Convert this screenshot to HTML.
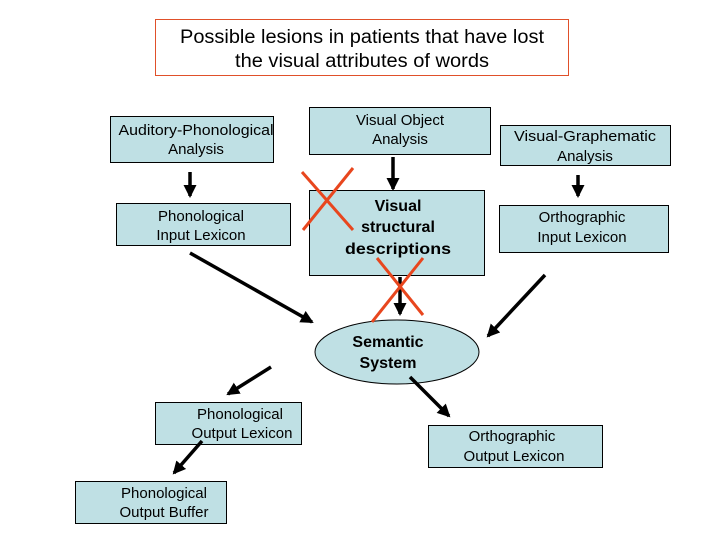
<!DOCTYPE html>
<html><head><meta charset="utf-8"><style>
html,body{margin:0;padding:0;background:#fff;}
svg{display:block;}
text{font-family:"Liberation Sans",sans-serif;fill:#000;}
</style></head><body>
<svg width="720" height="540" viewBox="0 0 720 540" xmlns="http://www.w3.org/2000/svg">
<defs>
<marker id="ah" markerWidth="14" markerHeight="14" refX="11" refY="6.5" orient="auto" markerUnits="userSpaceOnUse">
<path d="M0,0 L13,6.5 L0,13 z" fill="#000"/>
</marker>
</defs>
<rect x="155.5" y="19.5" width="413" height="56" fill="#fff" stroke="#e0502a" stroke-width="1"/>
<text x="362" y="43" font-size="19" text-anchor="middle" textLength="364" lengthAdjust="spacingAndGlyphs">Possible lesions in patients that have lost</text>
<text x="362" y="67" font-size="19" text-anchor="middle" textLength="254" lengthAdjust="spacingAndGlyphs">the visual attributes of words</text>
<g fill="#bfe0e4" stroke="#000" stroke-width="1">
<rect x="110.5" y="116.5" width="163" height="46"/>
<rect x="309.5" y="107.5" width="181" height="47"/>
<rect x="500.5" y="125.5" width="170" height="40"/>
<rect x="116.5" y="203.5" width="174" height="42"/>
<rect x="309.5" y="190.5" width="175" height="85"/>
<rect x="499.5" y="205.5" width="169" height="47"/>
<ellipse cx="397" cy="352" rx="82" ry="32"/>
<rect x="155.5" y="402.5" width="146" height="42"/>
<rect x="428.5" y="425.5" width="174" height="42"/>
<rect x="75.5" y="481.5" width="151" height="42"/>
</g>
<g font-size="15" text-anchor="middle">
<text x="196" y="135" textLength="155" lengthAdjust="spacingAndGlyphs">Auditory-Phonological</text><text x="196" y="154">Analysis</text>
<text x="400" y="125">Visual Object</text><text x="400" y="144">Analysis</text>
<text x="585" y="141" textLength="142" lengthAdjust="spacingAndGlyphs">Visual-Graphematic</text><text x="585" y="161">Analysis</text>
<text x="201" y="221">Phonological</text><text x="201" y="240">Input Lexicon</text>
<text x="582" y="222">Orthographic</text><text x="582" y="242">Input Lexicon</text>
<text x="240" y="419">Phonological</text><text x="242" y="438">Output Lexicon</text>
<text x="512" y="441">Orthographic</text><text x="514" y="461">Output Lexicon</text>
<text x="164" y="498">Phonological</text><text x="164" y="517">Output Buffer</text>
</g>
<g font-size="16" font-weight="bold" text-anchor="middle">
<text x="398" y="211">Visual</text>
<text x="398" y="232">structural</text>
<text x="398" y="254" textLength="106" lengthAdjust="spacingAndGlyphs">descriptions</text>
<text x="388" y="347">Semantic</text>
<text x="388" y="368">System</text>
</g>
<g stroke="#000" stroke-width="3.5" marker-end="url(#ah)">
<line x1="190" y1="172" x2="190" y2="196"/>
<line x1="393" y1="157" x2="393" y2="189"/>
<line x1="578" y1="175" x2="578" y2="196"/>
<line x1="190" y1="253" x2="312" y2="322"/>
<line x1="400" y1="277" x2="400" y2="314"/>
<line x1="545" y1="275" x2="488" y2="336"/>
<line x1="271" y1="367" x2="228" y2="394"/>
<line x1="410" y1="377" x2="449" y2="416"/>
<line x1="202" y1="441" x2="174" y2="473"/>
</g>
<g stroke="#e8461e" stroke-width="3">
<line x1="302" y1="172" x2="353" y2="230"/>
<line x1="353" y1="168" x2="303" y2="230"/>
<line x1="377" y1="258" x2="423" y2="315"/>
<line x1="423" y1="258" x2="372" y2="322"/>
</g>
</svg>
</body></html>
